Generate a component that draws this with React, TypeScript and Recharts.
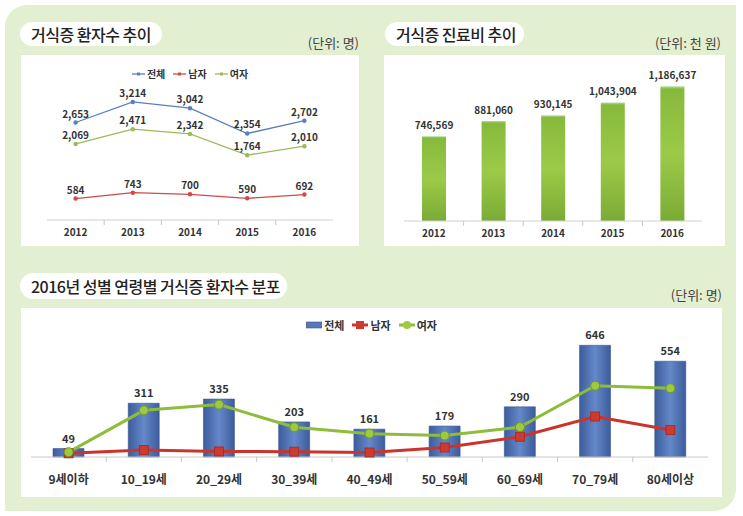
import React from 'react';
import { Bar, ComposedChart, LabelList, Line, XAxis, YAxis } from 'recharts';

const years = ['2012', '2013', '2014', '2015', '2016'];
const totalPatients = [2653, 3214, 3042, 2354, 2702];
const malePatients = [584, 743, 700, 590, 692];
const femalePatients = [2069, 2471, 2342, 1764, 2010];
const treatmentCost = [746569, 881060, 930145, 1043904, 1186637];

const ageGroups = ['9세이하', '10_19세', '20_29세', '30_39세', '40_49세', '50_59세', '60_69세', '70_79세', '80세이상'];
const ageTotal = [49, 311, 335, 203, 161, 179, 290, 646, 554];
const ageMale = [21, 41, 32, 31, 26, 55, 117, 234, 156];
const ageFemale = [28, 270, 303, 172, 135, 124, 173, 412, 398];

const FONT = "'Noto Sans CJK KR', 'Noto Sans', sans-serif";

const trendData = years.map((year, i) => ({
  year,
  total: totalPatients[i],
  male: malePatients[i],
  female: femalePatients[i],
}));
const costData = years.map((year, i) => ({ year, cost: treatmentCost[i] }));
const ageData = ageGroups.map((group, i) => ({
  group,
  total: ageTotal[i],
  male: ageMale[i],
  female: ageFemale[i],
}));

const fmt = (v: any) => String(v).replace(/\B(?=(\d{3})+(?!\d))/g, ',');

// category tick with separator marks between bands
const makeTick = (band: number, count: number, fontSize: number, dy: number) => (props: any) => {
  const { x, y, payload, index } = props;
  return (
    <g>
      {index < count - 1 && (
        <line x1={x + band / 2} x2={x + band / 2} y1={y} y2={y + 5} stroke="#c8c8c8" />
      )}
      <text x={x} y={y + dy} textAnchor="middle" fontSize={fontSize} fontWeight={700} fill="#333">
        {payload.value}
      </text>
    </g>
  );
};

const SquareDot = (props: any) => {
  const { cx, cy, index } = props;
  if (cx == null || cy == null) return <g key={index} />;
  return <rect key={index} x={cx - 4.5} y={cy - 4.5} width={9} height={9} fill="#cc3a30" stroke="#a8261e" strokeWidth={0.8} />;
};

const Pill = ({ left, top, width, height, text }: any) => (
  <div
    style={{
      position: 'absolute', left, top, width, height, background: '#fff', borderRadius: height / 2,
      fontSize: 16, fontWeight: 500, color: '#222', lineHeight: `${height}px`, paddingLeft: 11,
      boxSizing: 'border-box', whiteSpace: 'nowrap', letterSpacing: -0.5,
    }}
  >
    {text}
  </div>
);

const Unit = ({ right, top, text }: any) => (
  <div style={{ position: 'absolute', right, top, fontSize: 13, color: '#444', whiteSpace: 'nowrap' }}>{text}</div>
);

const labelStyle = { fontSize: 10, fontWeight: 700, fill: '#333' };

export default function App() {
  return (
    <div style={{ position: 'fixed', left: 0, top: 0, width: 743, height: 516, background: '#fff', fontFamily: FONT }}>
      <div
        style={{
          position: 'absolute', left: 5, top: 5, width: 731, height: 506, background: '#e3efd1',
          borderTopLeftRadius: 22, borderBottomRightRadius: 22,
        }}
      />

      {/* 거식증 환자수 추이 */}
      <Pill left={20} top={22} width={142} height={24} text="거식증 환자수 추이" />
      <Unit right={743 - 359} top={33} text="(단위: 명)" />
      <div style={{ position: 'absolute', left: 21, top: 55, width: 338, height: 191, background: '#fff' }}>
        <ComposedChart width={338} height={191} data={trendData} margin={{ top: 18, right: 26, left: 26, bottom: 0 }}>
          <XAxis
            dataKey="year"
            scale="band"
            height={26}
            tickLine={false}
            tickSize={0}
            tickMargin={0}
            stroke="#d0d0d0"
            tick={makeTick(57.2, years.length, 10, 16)}
            interval={0}
          />
          <YAxis hide domain={[0, 4000]} />
          <Line dataKey="total" stroke="#5a7ec3" strokeWidth={1.3} dot={{ r: 1.6, fill: '#5a7ec3', stroke: '#5a7ec3' }} isAnimationActive={false}>
            <LabelList dataKey="total" position="top" offset={5} style={labelStyle} formatter={fmt} />
          </Line>
          <Line dataKey="male" stroke="#cf4a47" strokeWidth={1.3} dot={{ r: 1.6, fill: '#cf4a47', stroke: '#cf4a47' }} isAnimationActive={false}>
            <LabelList dataKey="male" position="top" offset={5} style={labelStyle} formatter={fmt} />
          </Line>
          <Line dataKey="female" stroke="#9bbb59" strokeWidth={1.3} dot={{ r: 1.6, fill: '#9bbb59', stroke: '#9bbb59' }} isAnimationActive={false}>
            <LabelList dataKey="female" position="top" offset={5} style={labelStyle} formatter={fmt} />
          </Line>
        </ComposedChart>
        <div style={{ position: 'absolute', left: 0, right: 0, top: 11, display: 'flex', justifyContent: 'center', gap: 8, fontSize: 10, fontWeight: 700, color: '#333' }}>
          {[['전체', '#5a7ec3'], ['남자', '#cf4a47'], ['여자', '#9bbb59']].map(([name, c]) => (
            <span key={name} style={{ display: 'flex', alignItems: 'center' }}>
              <svg width={13} height={8} style={{ marginRight: 2 }}>
                <line x1={0} x2={13} y1={4} y2={4} stroke={c} strokeWidth={1.3} />
                <rect x={5} y={2.5} width={3} height={3} fill={c} />
              </svg>
              {name}
            </span>
          ))}
        </div>
      </div>

      {/* 거식증 진료비 추이 */}
      <Pill left={385} top={22} width={139} height={24} text="거식증 진료비 추이" />
      <Unit right={743 - 721} top={33} text="(단위: 천 원)" />
      <div style={{ position: 'absolute', left: 384, top: 55, width: 341, height: 191, background: '#fff' }}>
        <ComposedChart width={341} height={191} data={costData} margin={{ top: 7, right: 23, left: 20, bottom: 0 }}>
          <defs>
            <linearGradient id="greenBar" x1="0" y1="0" x2="0" y2="1">
              <stop offset="0" stopColor="#b6e0a8" />
              <stop offset="0.02" stopColor="#86b93b" />
              <stop offset="0.5" stopColor="#9cca48" />
              <stop offset="1" stopColor="#7aab34" />
            </linearGradient>
          </defs>
          <XAxis
            dataKey="year"
            height={25}
            tickLine={false}
            tickSize={0}
            tickMargin={0}
            stroke="#d0d0d0"
            tick={makeTick(59.6, years.length, 10, 16)}
            interval={0}
          />
          <YAxis hide domain={[0, 1400000]} />
          <Bar dataKey="cost" barSize={24} fill="url(#greenBar)" isAnimationActive={false}>
            <LabelList dataKey="cost" position="top" offset={7} style={labelStyle} formatter={fmt} />
          </Bar>
        </ComposedChart>
      </div>

      {/* 2016년 성별 연령별 거식증 환자수 분포 */}
      <Pill left={20} top={273} width={267} height={26} text="2016년 성별 연령별 거식증 환자수 분포" />
      <Unit right={743 - 722} top={285} text="(단위: 명)" />
      <div style={{ position: 'absolute', left: 21, top: 308, width: 701, height: 189, background: '#fff' }}>
        <ComposedChart width={701} height={189} data={ageData} margin={{ top: 28, right: 14, left: 10, bottom: 0 }}>
          <defs>
            <linearGradient id="blueBar" x1="0" y1="0" x2="1" y2="0">
              <stop offset="0" stopColor="#3d5c9b" />
              <stop offset="0.5" stopColor="#6488c9" />
              <stop offset="1" stopColor="#3d5c9b" />
            </linearGradient>
          </defs>
          <XAxis
            dataKey="group"
            height={40}
            tickLine={false}
            tickSize={0}
            tickMargin={0}
            stroke="#c8c8c8"
            tick={makeTick(75.2, ageGroups.length, 12, 27)}
            interval={0}
          />
          <YAxis hide domain={[0, 700]} />
          <Bar dataKey="total" barSize={31} fill="url(#blueBar)" stroke="#3a5894" strokeWidth={0.6} isAnimationActive={false}>
            <LabelList dataKey="total" position="top" offset={6} style={{ fontSize: 11, fontWeight: 700, fill: '#333' }} formatter={fmt} />
          </Bar>
          <Line dataKey="male" stroke="#c9352c" strokeWidth={3} dot={<SquareDot />} isAnimationActive={false} />
          <Line
            dataKey="female"
            stroke="#8dbd3a"
            strokeWidth={3}
            dot={{ r: 4.5, fill: '#9ccb40', stroke: '#6d9a25', strokeWidth: 1 }}
            isAnimationActive={false}
          />
        </ComposedChart>
        <div style={{ position: 'absolute', left: 0, right: 0, top: 9, display: 'flex', justifyContent: 'center', gap: 8, fontSize: 11, fontWeight: 700, color: '#333' }}>
          <span style={{ display: 'flex', alignItems: 'center' }}>
            <svg width={16} height={8} style={{ marginRight: 2 }}>
              <rect x={0} y={1} width={16} height={6} fill="#5677b8" stroke="#3a5894" strokeWidth={0.6} />
            </svg>
            전체
          </span>
          <span style={{ display: 'flex', alignItems: 'center' }}>
            <svg width={16} height={10} style={{ marginRight: 2 }}>
              <line x1={0} x2={16} y1={5} y2={5} stroke="#c9352c" strokeWidth={3} />
              <rect x={4} y={1} width={8} height={8} fill="#cc3a30" />
            </svg>
            남자
          </span>
          <span style={{ display: 'flex', alignItems: 'center' }}>
            <svg width={16} height={10} style={{ marginRight: 2 }}>
              <line x1={0} x2={16} y1={5} y2={5} stroke="#8dbd3a" strokeWidth={3} />
              <circle cx={8} cy={5} r={4} fill="#9ccb40" />
            </svg>
            여자
          </span>
        </div>
      </div>
    </div>
  );
}
